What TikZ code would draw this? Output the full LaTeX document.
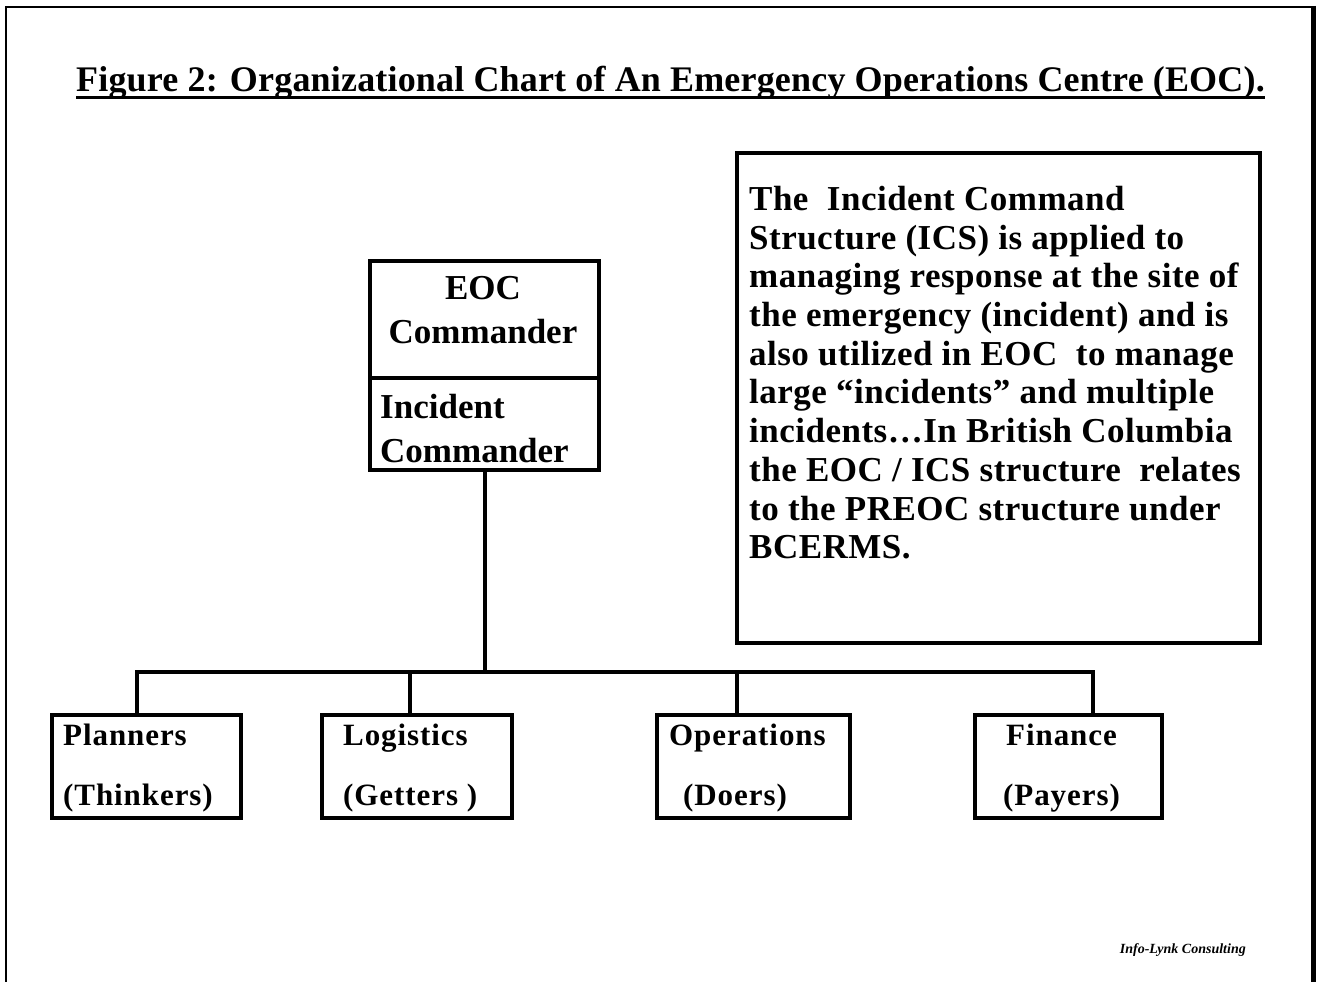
\documentclass[tikz,border=0pt]{standalone}
\usepackage{fontspec}
\setmainfont{Liberation Serif}
\begin{document}
\begin{tikzpicture}[x=1pt,y=-1pt,
  box/.style={draw,line width=4pt,inner sep=0pt,anchor=north west},
  conn/.style={line width=4pt,line join=miter},
  lbl/.style={inner sep=0pt,anchor=base west,font=\fontsize{31}{36}\selectfont\bfseries\addfontfeature{LetterSpace=3}},
  big/.style={inner sep=0pt,font=\fontsize{35}{40}\selectfont\bfseries}]
\useasboundingbox (0,0) rectangle (1317,982);
% outer frame (no bottom edge)
\draw[line width=2.5pt] (6,982) -- (6,7) -- (1313,7);
\draw[line width=5pt] (1313,6) -- (1313,982);
% title
\node[inner sep=0pt,anchor=base west,font=\fontsize{36}{40}\selectfont\bfseries\addfontfeature{LetterSpace=0.5}] (title) at (76,92)
  {Figure 2: Organizational Chart of An Emergency Operations Centre (EOC).};
\draw[line width=3pt] ([yshift=-5pt]title.base west) -- ([yshift=-5pt]title.base east);
% EOC commander box
\node[box,minimum width=229pt,minimum height=209pt] (eoc) at (368,259) {};
\coordinate (div) at (368,378);
\draw[line width=4pt] (div) -- (div -| eoc.east);
\node[big,anchor=base] (t1) at (483,299) {EOC};
\node[big,anchor=base] (t2) at (483,343) {Commander};
\node[big,anchor=base west] (t3) at (380,418) {Incident};
\node[big,anchor=base west] (t4) at (380,462) {Commander};
% description box
\node[box,minimum width=523pt,minimum height=490pt] (desc) at (735,151) {};
\node[big,anchor=north west,align=left,font=\fontsize{35}{38.7}\selectfont\bfseries\addfontfeature{LetterSpace=1.4}] (dtext) at (749,186)
{The\ \ Incident Command\\
Structure (ICS) is applied to\\
managing response at the site of\\
the emergency (incident) and is\\
also utilized in EOC\ \ to manage\\
large “incidents” and multiple\\
incidents…In British Columbia\\
the EOC / ICS structure\ \ relates\\
to the PREOC structure under\\
BCERMS.};
% lower boxes
\node[box,minimum width=189pt,minimum height=103pt] (plan) at (50,713) {};
\node[box,minimum width=190pt,minimum height=103pt] (logi) at (320,713) {};
\node[box,minimum width=193pt,minimum height=103pt] (oper) at (655,713) {};
\node[box,minimum width=187pt,minimum height=103pt] (fina) at (973,713) {};
\node[lbl] (p1) at (63,745) {Planners};
\node[lbl] (p2) at (63,805) {(Thinkers)};
\node[lbl] (l1) at (343,745) {Logistics};
\node[lbl] (l2) at (343,805) {(Getters )};
\node[lbl] (o1) at (669,745) {Operations};
\node[lbl] (o2) at (683,805) {(Doers)};
\node[lbl] (f1) at (1006,745) {Finance};
\node[lbl] (f2) at (1003,805) {(Payers)};
% connectors
\coordinate (bus) at (483,672);
\coordinate (s1) at ([xshift=87pt]plan.north west);
\coordinate (s2) at ([xshift=90pt]logi.north west);
\coordinate (s3) at ([xshift=82pt]oper.north west);
\coordinate (s4) at ([xshift=120pt]fina.north west);
\draw[conn] (eoc.south) -- (eoc.south |- bus);
\draw[conn] (s1) -- (s1 |- bus) -- (s4 |- bus) -- (s4);
\draw[conn] (s2) -- (s2 |- bus);
\draw[conn] (s3) -- (s3 |- bus);
% footer
\node[inner sep=0pt,anchor=base east,font=\fontsize{14}{16}\selectfont\bfseries\itshape] (foot) at (1246,953) {Info-Lynk Consulting};
\end{tikzpicture}
\end{document}
